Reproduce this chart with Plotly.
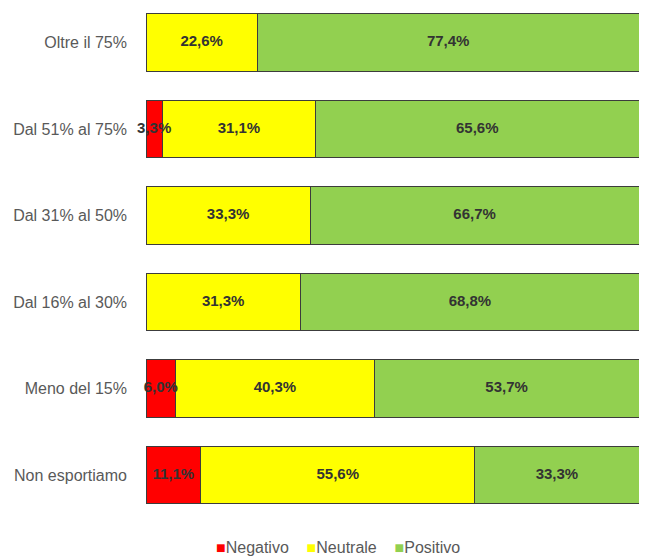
import plotly.graph_objects as go

categories = ["Non esportiamo", "Meno del 15%", "Dal 16% al 30%",
              "Dal 31% al 50%", "Dal 51% al 75%", "Oltre il 75%"]
negativo = [11.1, 6.0, None, None, 3.3, None]
neutrale = [55.6, 40.3, 31.3, 33.3, 31.1, 22.6]
positivo = [33.3, 53.7, 68.8, 66.7, 65.6, 77.4]

series = [("Negativo", negativo, "#FF0000"),
          ("Neutrale", neutrale, "#FFFF00"),
          ("Positivo", positivo, "#92D050")]

FONT = "Liberation Sans, Arial"
label_font = dict(family=FONT, size=15, color="#333333", weight="bold")

fig = go.Figure()
for name, vals, col in series:
    fig.add_trace(go.Bar(
        y=categories, x=vals, name=name, orientation="h",
        marker=dict(color=col, line=dict(color="#3c3c3c", width=1)),
        textposition="none", hoverinfo="x+name",
    ))

# value labels as text traces on top, centred on each segment
base = [0.0] * len(categories)
for name, vals, col in series:
    ys, xs, txt = [], [], []
    for i, v in enumerate(vals):
        if v:
            ys.append(categories[i])
            xs.append(base[i] + v / 2)
            txt.append(f"{v:.1f}%".replace(".", ","))
            base[i] += v
    fig.add_trace(go.Scatter(
        y=ys, x=xs, text=txt, mode="text", textfont=label_font,
        hoverinfo="skip", showlegend=False, cliponaxis=False,
    ))

# legend drawn as a single line of text (the page body adds an 8px offset)
legend_txt = "&nbsp;&nbsp;&nbsp;&nbsp;".join(
    f"<span style='color:{col}'>■</span>{name}" for name, _, col in series)
fig.add_annotation(text=legend_txt, xref="paper", yref="paper", x=0.39, y=-0.042,
                   xanchor="center", yanchor="middle", showarrow=False,
                   font=dict(family=FONT, size=16, color="#595959"))

fig.update_layout(
    barmode="stack", bargap=0.34,
    width=632, height=549,
    margin=dict(l=138, r=1, t=0, b=31),
    plot_bgcolor="white", paper_bgcolor="white",
    font=dict(family=FONT, size=16, color="#595959"),
    xaxis=dict(range=[0, 100], visible=False),
    yaxis=dict(showgrid=False, ticklabelstandoff=18, showline=False,
               range=[-0.589, 5.399], automargin=False),
    showlegend=False,
)

fig.write_html("out.html")
